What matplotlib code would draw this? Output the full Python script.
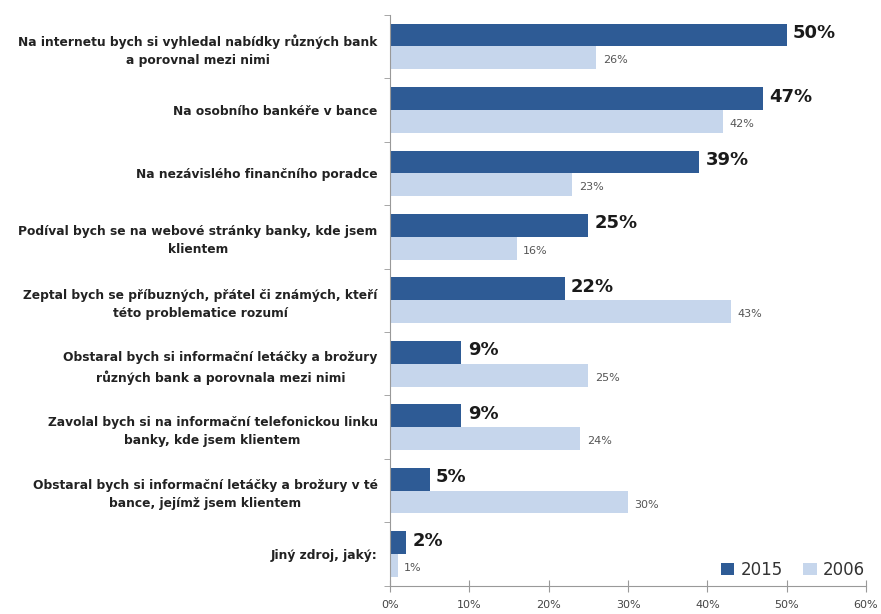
import numpy as np
import matplotlib.pyplot as plt
from matplotlib.ticker import FixedLocator, PercentFormatter

categories = [
    "Na internetu bych si vyhledal nabídky různých bank\na porovnal mezi nimi",
    "Na osobního bankéře v bance",
    "Na nezávislého finančního poradce",
    "Podíval bych se na webové stránky banky, kde jsem\nklientem",
    "Zeptal bych se příbuzných, přátel či známých, kteří\ntéto problematice rozumí",
    "Obstaral bych si informační letáčky a brožury\nrůzných bank a porovnala mezi nimi",
    "Zavolal bych si na informační telefonickou linku\nbanky, kde jsem klientem",
    "Obstaral bych si informační letáčky a brožury v té\nbance, jejímž jsem klientem",
    "Jiný zdroj, jaký:",
]
values_2015 = [50, 47, 39, 25, 22, 9, 9, 5, 2]
values_2006 = [26, 42, 23, 16, 43, 25, 24, 30, 1]

dark = "#2E5B95"
light = "#C6D6EC"

fig = plt.figure(figsize=(8.81, 6.14), dpi=100)
ax = fig.add_axes([0.4427, 0.046, 0.5403, 0.93])

n = len(categories)
y = np.arange(n)
h = 0.36

ax.barh(y - h / 2, values_2015, height=h, color=dark, label="2015")
ax.barh(y + h / 2, values_2006, height=h, color=light, label="2006")

for yi, v in zip(y, values_2015):
    ax.text(v + 0.8, yi - h / 2 - 0.03, f"{v}%", va="center", ha="left",
            fontsize=13, fontweight="bold", color="#1a1a1a")
for yi, v in zip(y, values_2006):
    ax.text(v + 0.8, yi + h / 2 + 0.04, f"{v}%", va="center", ha="left",
            fontsize=8, color="#555555")

ax.set_ylim(n - 0.5, -0.5)
ax.set_xlim(0, 60)

ax.set_yticks(y)
ax.set_yticklabels(categories, fontsize=8.8, fontweight="bold",
                   multialignment="center", color="#222222", linespacing=1.5)
ax.yaxis.set_minor_locator(FixedLocator(np.arange(-0.5, n, 1)))
ax.tick_params(axis="y", which="major", length=0, pad=9)
ax.tick_params(axis="y", which="minor", length=4, color="#999999")

ax.set_xticks(np.arange(0, 61, 10))
ax.xaxis.set_major_formatter(PercentFormatter(decimals=0))
ax.tick_params(axis="x", direction="inout", length=8, color="#999999",
               labelsize=8, labelcolor="#444444", pad=6)

for s in ["top", "right"]:
    ax.spines[s].set_visible(False)
for s in ["left", "bottom"]:
    ax.spines[s].set_color("#999999")

ax.legend(loc="lower right", bbox_to_anchor=(1.03, -0.014), ncol=2,
          frameon=False, fontsize=12, handlelength=0.8, handleheight=0.8,
          columnspacing=1.2, handletextpad=0.4, labelcolor="#333333")

fig.savefig("out.png", dpi=100)
